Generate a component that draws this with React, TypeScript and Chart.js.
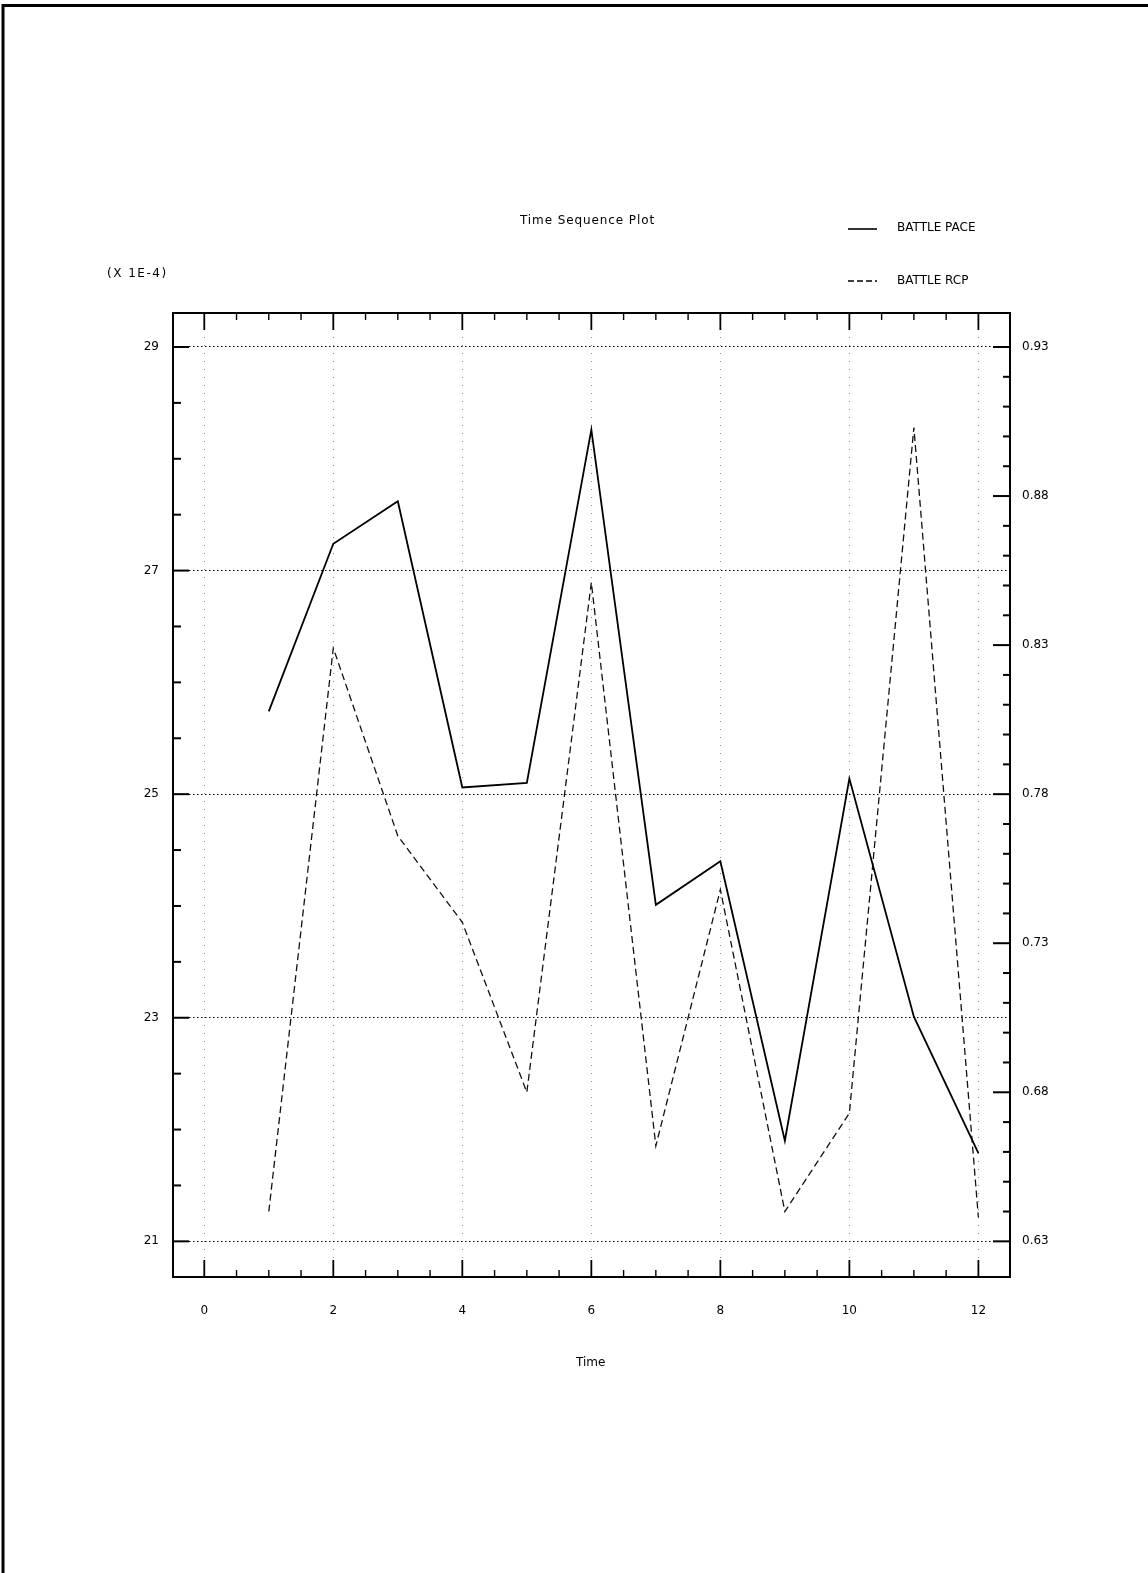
import React, { useEffect, useRef } from "react";
import { Chart, registerables } from "chart.js";

Chart.register(...registerables);

const times = [1, 2, 3, 4, 5, 6, 7, 8, 9, 10, 11, 12];
const battlePace = [25.74, 27.24, 27.62, 25.06, 25.1, 28.26, 24.01, 24.4, 21.9, 25.14, 23.01, 21.79];
const battleRcp = [0.64, 0.829, 0.766, 0.737, 0.68, 0.851, 0.662, 0.748, 0.64, 0.673, 0.903, 0.638];
const xTicks = [0, 2, 4, 6, 8, 10, 12];
const leftTicks = [21, 23, 25, 27, 29];
const rightTicks = [0.63, 0.68, 0.73, 0.78, 0.83, 0.88, 0.93];

const W = 1148;
const H = 1573;
const FONT = '"DejaVu Sans", "Liberation Sans", sans-serif';

const decorPlugin = {
  id: "decor",
  beforeDraw(chart: any) {
    const ctx = chart.ctx;
    ctx.save();
    ctx.fillStyle = "#fff";
    ctx.fillRect(0, 0, chart.width, chart.height);
    ctx.restore();
  },
  afterDraw(chart: any) {
    const ctx = chart.ctx;
    const ca = chart.chartArea;
    const xs = chart.scales.x;
    const yl = chart.scales.y;
    const yr = chart.scales.y2;
    ctx.save();
    // page border
    ctx.fillStyle = "#000";
    ctx.fillRect(2, 4, W - 2, 3);
    ctx.fillRect(1.5, 4, 3, H - 4);

    // plot frame
    ctx.strokeStyle = "#000";
    ctx.lineWidth = 2;
    ctx.setLineDash([]);
    ctx.strokeRect(ca.left, ca.top, ca.right - ca.left, ca.bottom - ca.top);

    const line = (x1: number, y1: number, x2: number, y2: number, w: number) => {
      ctx.lineWidth = w;
      ctx.beginPath();
      ctx.moveTo(x1, y1);
      ctx.lineTo(x2, y2);
      ctx.stroke();
    };

    // x ticks (bottom and top)
    for (let i = 0; i <= 24; i++) {
      const v = i * 0.5;
      const px = xs.getPixelForValue(v);
      const major = xTicks.includes(v);
      const len = major ? 17 : 7;
      line(px, ca.bottom, px, ca.bottom - len, major ? 1.8 : 1.4);
      line(px, ca.top, px, ca.top + len, major ? 1.8 : 1.4);
    }
    // left ticks
    for (let i = 0; i <= 16; i++) {
      const v = 21 + i * 0.5;
      const py = yl.getPixelForValue(v);
      const major = leftTicks.includes(v);
      line(ca.left, py, ca.left + (major ? 16 : 8), py, 2);
    }
    // right ticks
    for (let i = 0; i <= 30; i++) {
      const v = Math.round((0.63 + i * 0.01) * 100) / 100;
      const py = yr.getPixelForValue(v);
      const major = rightTicks.includes(v);
      line(ca.right, py, ca.right - (major ? 17 : 7), py, 2);
    }

    // texts
    ctx.fillStyle = "#000";
    ctx.textBaseline = "middle";
    ctx.textAlign = "left";
    ctx.font = "12px " + FONT;
    (ctx as any).letterSpacing = "0.9px";
    ctx.fillText("Time Sequence Plot", 520, 221);
    (ctx as any).letterSpacing = "1.5px";
    ctx.fillText("(X 1E-4)", 107, 274);
    (ctx as any).letterSpacing = "0px";
    ctx.fillText("Time", 576, 1363);

    // legend
    ctx.strokeStyle = "#000";
    ctx.setLineDash([]);
    line(848, 229, 877, 229, 1.6);
    ctx.setLineDash([6, 3]);
    line(848, 281, 877, 281, 1.3);
    ctx.setLineDash([]);
    ctx.fillText("BATTLE PACE", 897, 228);
    ctx.fillText("BATTLE RCP", 897, 281);
    ctx.restore();
  },
};

export default function App() {
  const ref = useRef<HTMLCanvasElement | null>(null);

  useEffect(() => {
    if (!ref.current) return;
    const chart = new Chart(ref.current, {
      type: "line",
      data: {
        datasets: [
          {
            label: "BATTLE PACE",
            data: times.map((t, i) => ({ x: t, y: battlePace[i] })),
            yAxisID: "y",
            borderColor: "#000",
            borderWidth: 1.8,
            pointRadius: 0,
            tension: 0,
            fill: false,
          },
          {
            label: "BATTLE RCP",
            data: times.map((t, i) => ({ x: t, y: battleRcp[i] })),
            yAxisID: "y2",
            borderColor: "#111",
            borderWidth: 1.3,
            borderDash: [7, 4],
            pointRadius: 0,
            tension: 0,
            fill: false,
          },
        ],
      },
      options: {
        animation: false,
        responsive: false,
        layout: { padding: { top: 313, left: 0, right: 0, bottom: 0 } },
        plugins: { legend: { display: false }, tooltip: { enabled: false }, title: { display: false } },
        scales: {
          x: {
            type: "linear",
            position: "bottom",
            min: -0.485,
            max: 12.49,
            afterBuildTicks: (s: any) => {
              s.ticks = xTicks.map((v) => ({ value: v }));
            },
            afterFit: (s: any) => {
              s.height = H - 1277;
            },
            grid: { color: "#888", lineWidth: 1, drawTicks: false },
            border: { display: false, dash: [1, 7] },
            ticks: {
              color: "#000",
              font: { family: FONT, size: 12 },
              padding: 27,
              maxRotation: 0,
              autoSkip: false,
              callback: (v: any) => String(v),
            },
          },
          y: {
            type: "linear",
            position: "left",
            min: 20.681,
            max: 29.304,
            afterBuildTicks: (s: any) => {
              s.ticks = leftTicks.map((v) => ({ value: v }));
            },
            afterFit: (s: any) => {
              s.width = 173;
            },
            grid: { color: "#000", lineWidth: 1, drawTicks: false },
            border: { display: false, dash: [1.5, 2.5] },
            ticks: {
              color: "#000",
              font: { family: FONT, size: 12 },
              padding: 14,
              autoSkip: false,
              callback: (v: any) => String(v),
            },
          },
          y2: {
            type: "linear",
            position: "right",
            min: 0.61804,
            max: 0.9414,
            afterBuildTicks: (s: any) => {
              s.ticks = rightTicks.map((v) => ({ value: v }));
            },
            afterFit: (s: any) => {
              s.width = W - 1010;
            },
            grid: { display: false, drawTicks: false },
            border: { display: false },
            ticks: {
              color: "#000",
              font: { family: FONT, size: 12 },
              padding: 12,
              autoSkip: false,
              callback: (v: any) => Number(v).toFixed(2),
            },
          },
        },
      } as any,
      plugins: [decorPlugin],
    });
    return () => chart.destroy();
  }, []);

  return (
    <div style={{ position: "absolute", left: 0, top: 0, width: W, height: H }}>
      <canvas ref={ref} width={W} height={H} style={{ width: W, height: H, display: "block" }} />
    </div>
  );
}
